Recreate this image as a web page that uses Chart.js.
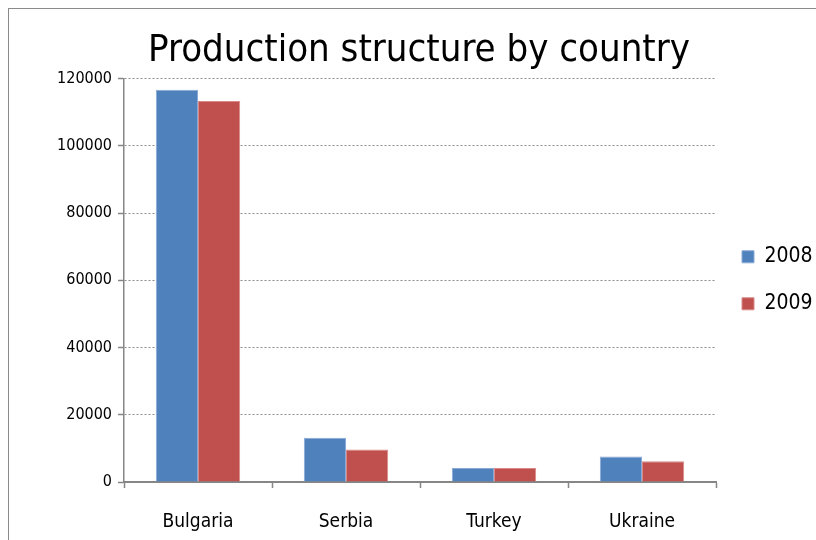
<!DOCTYPE html>
<html>
<head>
<meta charset="utf-8">
<script src="https://cdn.jsdelivr.net/npm/chart.js@4.4.1/dist/chart.umd.min.js"></script>
<style>
  html, body { margin: 0; padding: 0; background: #fff; }
  #wrap { position: relative; width: 816px; height: 540px; overflow: hidden; }
  #frame { position: absolute; left: 8px; top: 8px; width: 900px; height: 600px;
           border: 1px solid #8a8a8a; pointer-events: none; }
  canvas { position: absolute; left: 0; top: 0; }
</style>
</head>
<body>
<div id="wrap">
  <canvas id="chart" width="816" height="540"></canvas>
  <div id="frame"></div>
</div>
<script>
const countries = ['Bulgaria', 'Serbia', 'Turkey', 'Ukraine'];
const years = ['2008', '2009'];
const values2008 = [116700, 13200, 4200, 7600];
const values2009 = [113300, 9700, 4200, 6200];
const yTicks = [0, 20000, 40000, 60000, 80000, 100000, 120000];

const FONT = "'Liberation Sans Narrow', 'DejaVu Sans Condensed', sans-serif";
const AXIS_GREY = '#868686';

// keep the legend column at a fixed width so the plot area ends where it should
const legendWidthPlugin = {
  id: 'legendWidth',
  beforeLayout(chart) {
    const lg = chart.legend;
    if (lg && !lg._fixedFit) {
      const fit = lg.fit;
      lg.fit = function () { fit.call(this); this.width = 100; };
      lg._fixedFit = true;
    }
  }
};

new Chart(document.getElementById('chart'), {
  type: 'bar',
  data: {
    labels: countries,
    datasets: [
      { label: years[0], data: values2008, backgroundColor: '#4F81BD',
        borderColor: '#8AA9D4', borderWidth: 1 },
      { label: years[1], data: values2009, backgroundColor: '#C0504D',
        borderColor: '#D98A88', borderWidth: 1 }
    ]
  },
  plugins: [legendWidthPlugin],
  options: {
    responsive: false,
    animation: false,
    layout: { padding: { left: 22, right: 0, top: 0, bottom: 0 } },
    datasets: { bar: { categoryPercentage: 0.57, barPercentage: 1.0 } },
    plugins: {
      title: {
        display: true,
        text: 'Production structure by country',
        color: '#000',
        font: { family: FONT, size: 38, weight: 'normal' },
        padding: { top: 28, bottom: 5 }
      },
      legend: {
        position: 'right',
        fullSize: false,
        labels: {
          color: '#000',
          font: { family: FONT, size: 21 },
          boxWidth: 12, boxHeight: 12,
          padding: 26
        }
      },
      tooltip: { enabled: false }
    },
    scales: {
      x: {
        offset: true,
        grid: { display: true, drawOnChartArea: false, drawTicks: true, offset: true,
                tickLength: 6, tickColor: AXIS_GREY, tickWidth: 1.5 },
        border: { display: true, color: AXIS_GREY, width: 2 },
        ticks: { color: '#000', font: { family: FONT, size: 19 }, padding: 23 },
        afterFit(scale) { scale.height = 58; }
      },
      y: {
        min: 0, max: 120000,
        afterBuildTicks(scale) { scale.ticks = yTicks.map(v => ({ value: v })); },
        grid: { color: '#8c8c8c', lineWidth: 1, drawTicks: true, tickLength: 6,
                tickColor: AXIS_GREY, tickWidth: 1.5, tickBorderDash: [] },
        border: { display: true, color: AXIS_GREY, width: 1.5, dash: [2, 2] },
        ticks: { color: '#000', font: { family: FONT, size: 16 }, padding: 6,
                 callback: v => String(v) },
        afterFit(scale) { scale.width = 102; }
      }
    }
  }
});
</script>
</body>
</html>
